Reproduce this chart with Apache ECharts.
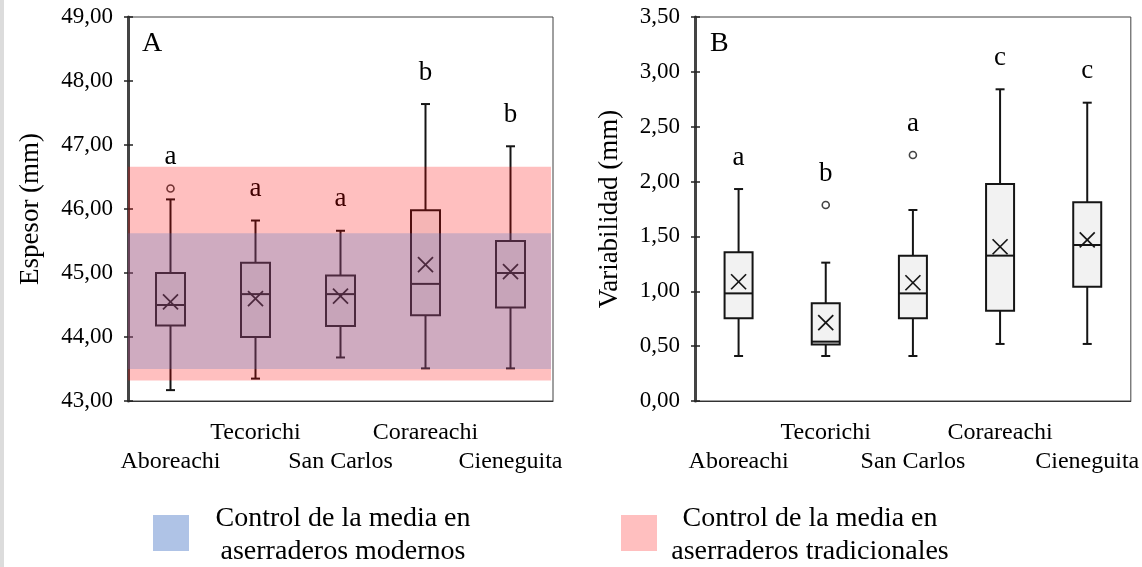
<!DOCTYPE html>
<html>
<head>
<meta charset="utf-8">
<script src="https://cdn.jsdelivr.net/npm/echarts@6/dist/echarts.min.js"></script>
<style>
html,body{margin:0;padding:0;background:#fff;}
#chart{width:1142px;height:567px;}
</style>
</head>
<body>
<div id="chart"></div>
<script>
const categories = ['Aboreachi', 'Tecorichi', 'San Carlos', 'Corareachi', 'Cieneguita'];

// Panel A: Espesor (mm) -> [min, Q1, median, Q3, max]
const espesorBox = [
  [43.17, 44.18, 44.50, 45.00, 46.15],
  [43.35, 44.00, 44.67, 45.16, 45.82],
  [43.68, 44.17, 44.67, 44.96, 45.66],
  [43.51, 44.34, 44.83, 45.98, 47.64],
  [43.51, 44.46, 45.00, 45.50, 46.98]
];
const espesorMean = [44.55, 44.60, 44.64, 45.13, 45.02];
const espesorOutliers = [[0, 46.32]];
const espesorLetters = ['a', 'a', 'a', 'b', 'b'];
const espesorTicks = [43, 44, 45, 46, 47, 48, 49];

// Panel B: Variabilidad (mm)
const variabBox = [
  [0.41, 0.754, 0.981, 1.355, 1.932],
  [0.41, 0.516, 0.541, 0.890, 1.261],
  [0.41, 0.754, 0.981, 1.325, 1.741],
  [0.52, 0.823, 1.325, 1.978, 2.841],
  [0.52, 1.042, 1.422, 1.811, 2.719]
];
const variabMean = [1.087, 0.714, 1.078, 1.406, 1.468];
const variabOutliers = [[1, 1.787], [2, 2.242]];
const variabLetters = ['a', 'b', 'a', 'c', 'c'];
const variabTicks = [0, 0.5, 1, 1.5, 2, 2.5, 3, 3.5];

// Control de la media (limits)
const controlModerno = [43.50, 45.62];
const controlTradicional = [43.32, 46.66];

const legendNames = ['Control de la media en\naserraderos modernos', 'Control de la media en\naserraderos tradicionales'];

const FONT = '"Liberation Serif", "Times New Roman", serif';
const fmt = v => v.toFixed(2).replace('.', ',');

function boxData(box, mean, outliers) {
  return box.map((b, i) => {
    let top = b[4];
    outliers.forEach(o => { if (o[0] === i && o[1] > top) top = o[1]; });
    return [i, b[0], b[1], b[2], b[3], b[4], mean[i], top];
  });
}

function makeRender(letters, hw) {
  return function (params, api) {
    const i = api.value(0);
    const c = k => api.coord([i, api.value(k)]);
    const x = c(1)[0];
    const yMin = c(1)[1], yQ1 = c(2)[1], yMed = c(3)[1], yQ3 = c(4)[1], yMax = c(5)[1], yMean = c(6)[1], yTop = c(7)[1];
    const cap = 4.5, m = 7.5;
    const st = { stroke: '#151515', lineWidth: 2 };
    const thin = { stroke: '#151515', lineWidth: 1.7 };
    const line = (x1, y1, x2, y2, s) => ({ type: 'line', shape: { x1, y1, x2, y2 }, style: s || st });
    return {
      type: 'group',
      children: [
        line(x, yQ3, x, yMax),
        line(x, yQ1, x, yMin),
        line(x - cap, yMax, x + cap, yMax),
        line(x - cap, yMin, x + cap, yMin),
        { type: 'rect', shape: { x: x - hw, y: yQ3, width: 2 * hw, height: yQ1 - yQ3 },
          style: { fill: '#f2f2f2', stroke: '#151515', lineWidth: 2 } },
        line(x - hw, yMed, x + hw, yMed),
        line(x - m, yMean - m, x + m, yMean + m, thin),
        line(x - m, yMean + m, x + m, yMean - m, thin),
        { type: 'text', x: x, y: yTop - 18,
          style: { text: letters[params.dataIndex], fill: '#000', font: '27px ' + FONT, align: 'center', verticalAlign: 'bottom' } }
      ]
    };
  };
}

function bandRender(colors) {
  return function (params, api) {
    const lo = api.coord([0, api.value(0)])[1];
    const hi = api.coord([0, api.value(1)])[1];
    const cs = params.coordSys;
    return { type: 'rect', shape: { x: cs.x, y: hi, width: cs.width - 2, height: lo - hi },
      style: { fill: colors[params.dataIndex] } };
  };
}

function yAxes(gridIndex, ticks, nameText, nameGap) {
  const min = ticks[0], max = ticks[ticks.length - 1], interval = ticks[1] - ticks[0];
  return [{
    type: 'value', gridIndex, min, max, interval, position: 'left',
    name: nameText, nameLocation: 'middle', nameRotate: 90, nameGap,
    nameTextStyle: { fontFamily: FONT, fontSize: 27, color: '#000' },
    axisLine: { show: true, lineStyle: { color: '#444', width: 3 } },
    axisTick: { show: true, length: 4, lineStyle: { color: '#222', width: 1.5 } },
    axisLabel: { formatter: fmt, fontFamily: FONT, fontSize: 23, color: '#000', margin: 15 },
    splitLine: { show: false }
  }, {
    type: 'value', gridIndex, min, max, interval, position: 'left',
    axisLine: { show: false },
    axisTick: { show: true, inside: true, length: 5, lineStyle: { color: '#222', width: 1.5 } },
    axisLabel: { show: false },
    splitLine: { show: false }
  }];
}

function xAxis(gridIndex) {
  return {
    type: 'category', gridIndex, data: categories, boundaryGap: true,
    axisLine: { show: true, lineStyle: { color: '#333', width: 1 } },
    axisTick: { show: false },
    axisLabel: {
      interval: 0, fontFamily: FONT, fontSize: 24, color: '#000', margin: 17, lineHeight: 29,
      formatter: (v, idx) => idx % 2 === 0 ? '\n' + v : v + '\n'
    },
    splitLine: { show: false }
  };
}

const chart = echarts.init(document.getElementById('chart'), null, { renderer: 'canvas' });

const option = {
  animation: false,
  backgroundColor: '#fff',
  grid: [
    { left: 128, top: 17, width: 425, height: 384, show: true, borderColor: '#404040', borderWidth: 1, backgroundColor: 'transparent' },
    { left: 695, top: 17, width: 438, height: 384, show: true, borderColor: '#404040', borderWidth: 1, backgroundColor: 'transparent' }
  ],
  xAxis: [xAxis(0), xAxis(1)],
  yAxis: [].concat(yAxes(0, espesorTicks, 'Espesor (mm)', 84), yAxes(1, variabTicks, 'Variabilidad (mm)', 72)),
  series: [
    {
      type: 'custom', name: 'Espesor', xAxisIndex: 0, yAxisIndex: 0, z: 3,
      data: boxData(espesorBox, espesorMean, espesorOutliers),
      encode: { x: 0, y: [1, 5] },
      renderItem: makeRender(espesorLetters, 14.5)
    },
    {
      type: 'scatter', xAxisIndex: 0, yAxisIndex: 0, z: 4,
      data: espesorOutliers, symbol: 'circle', symbolSize: 7,
      itemStyle: { color: '#fff', borderColor: '#151515', borderWidth: 1.6 }
    },
    {
      type: 'custom', name: 'Control', xAxisIndex: 0, yAxisIndex: 0, z: 10, silent: true,
      data: [controlTradicional, controlModerno],
      encode: { y: [0, 1] },
      renderItem: bandRender(['rgba(255,0,0,0.25)', 'rgba(68,114,196,0.26)'])
    },
    {
      type: 'custom', name: 'Variabilidad', xAxisIndex: 1, yAxisIndex: 2, z: 3,
      data: boxData(variabBox, variabMean, variabOutliers),
      encode: { x: 0, y: [1, 5] },
      renderItem: makeRender(variabLetters, 14)
    },
    {
      type: 'scatter', xAxisIndex: 1, yAxisIndex: 2, z: 4,
      data: variabOutliers, symbol: 'circle', symbolSize: 7,
      itemStyle: { color: '#fff', borderColor: '#151515', borderWidth: 1.6 }
    }
  ],
  graphic: [
    { type: 'rect', shape: { x: 0, y: 0, width: 4, height: 567 }, style: { fill: '#dcdcdc' }, silent: true },
    { type: 'text', x: 142, y: 30, style: { text: 'A', font: '28px ' + FONT, fill: '#000' } },
    { type: 'text', x: 710, y: 30, style: { text: 'B', font: '28px ' + FONT, fill: '#000' } },
    { type: 'rect', shape: { x: 153, y: 515, width: 36, height: 36 }, style: { fill: '#AFC3E6' } },
    { type: 'text', x: 343, y: 502, style: { text: legendNames[0], font: '28px ' + FONT, fill: '#000', align: 'center', lineHeight: 33 } },
    { type: 'rect', shape: { x: 621, y: 515, width: 36, height: 36 }, style: { fill: '#FFBFBF' } },
    { type: 'text', x: 810, y: 502, style: { text: legendNames[1], font: '28px ' + FONT, fill: '#000', align: 'center', lineHeight: 33 } }
  ]
};
chart.setOption(option);
</script>
</body>
</html>
